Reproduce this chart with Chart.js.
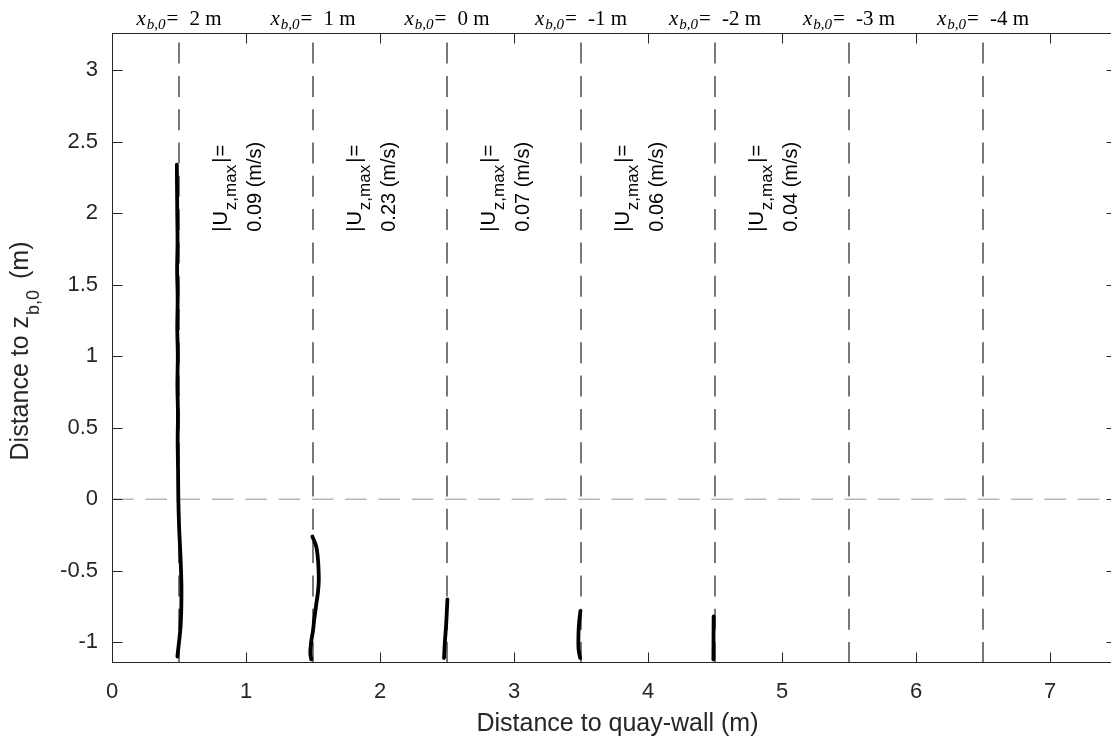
<!DOCTYPE html>
<html>
<head>
<meta charset="utf-8">
<script src="https://cdn.jsdelivr.net/npm/chart.js@4.4.1/dist/chart.umd.min.js"></script>
<style>
  html, body { margin: 0; padding: 0; background: #fff; overflow: hidden; }
  #wrap { width: 1118px; height: 744px; }
</style>
</head>
<body>
<div id="wrap"><canvas id="c" width="1118" height="744"></canvas></div>
<script>
// guide lines at the measurement stations, and the x_b,0 they stand for
const guideX = [0.5, 1.5, 2.5, 3.5, 4.5, 5.5, 6.5];
const xb0 = ['2', '1', '0', '-1', '-2', '-3', '-4'];

// max vertical velocity per profile (m/s)
const uzMax = ['0.09', '0.23', '0.07', '0.06', '0.04'];

// profile shapes (z in m, x in m)
const profZ1 = [-1.10, -1.05, -1.00, -0.90, -0.80, -0.70, -0.60, -0.50, -0.40, -0.30, -0.20, 0.00, 0.20, 0.40, 0.60, 0.80, 1.00, 1.20, 1.40, 1.60, 1.80, 2.00, 2.20, 2.34];
const profX1 = [0.488, 0.494, 0.500, 0.511, 0.516, 0.518, 0.518, 0.515, 0.511, 0.506, 0.501, 0.495, 0.493, 0.490, 0.492, 0.488, 0.491, 0.487, 0.490, 0.486, 0.489, 0.487, 0.485, 0.484];
const profZ2 = [-1.12, -1.08, -1.00, -0.92, -0.85, -0.75, -0.65, -0.57, -0.48, -0.40, -0.33, -0.26];
const profX2 = [1.487, 1.480, 1.486, 1.500, 1.508, 1.522, 1.537, 1.543, 1.541, 1.535, 1.524, 1.495];
const profZ3 = [-1.11, -1.00, -0.90, -0.80, -0.70];
const profX3 = [2.478, 2.484, 2.492, 2.498, 2.503];
const profZ4 = [-1.11, -1.05, -0.95, -0.85, -0.78];
const profX4 = [3.494, 3.482, 3.481, 3.487, 3.496];
const profZ5 = [-1.12, -0.82];
const profX5 = [4.488, 4.490];

const xTicksMin = 0, xTicksMax = 7.5;
const yTicksMin = -1.145, yTicksMax = 3.26;

const profiles = [[profX1, profZ1], [profX2, profZ2], [profX3, profZ3], [profX4, profZ4], [profX5, profZ5]];

const SANS = '"Liberation Sans", Arial, Helvetica, sans-serif';
const SERIF = '"Liberation Serif", "Times New Roman", serif';

const datasets = [];
profiles.forEach(([px, pz]) => {
  datasets.push({
    data: pz.map((z, i) => ({x: px[i], y: z})),
    showLine: true, borderColor: '#000', borderWidth: 3.8,
    pointRadius: 0, tension: 0.3, order: 0, borderCapStyle: 'round'
  });
});
guideX.forEach(g => {
  datasets.push({
    data: [{x: g, y: yTicksMin}, {x: g, y: yTicksMax}],
    showLine: true, borderColor: '#1e1e1e', borderWidth: 1.2,
    borderDash: [21, 12.3], pointRadius: 0, order: 1
  });
});
datasets.push({
  data: [{x: xTicksMin, y: 0}, {x: xTicksMax, y: 0}],
  showLine: true, borderColor: '#b8b8b8', borderWidth: 1.6,
  borderDash: [21.7, 11.6], pointRadius: 0, order: 2
});

// draws a run of text pieces on one baseline, returns its width
function runs(ctx, parts, x0, y0, draw) {
  let x = x0;
  parts.forEach(p => {
    ctx.font = p.f;
    if (draw) ctx.fillText(p.t, x, y0 + (p.dy || 0));
    x += ctx.measureText(p.t).width + (p.gap || 0);
  });
  return x - x0;
}

const overlay = {
  id: 'overlay',
  afterDatasetsDraw(chart) {
    const {ctx, chartArea: a, scales: {x, y}} = chart;
    ctx.save();
    ctx.textBaseline = 'alphabetic';
    ctx.textAlign = 'left';

    // box + inward ticks
    const L = Math.round(a.left) + 0.5, R = Math.round(a.right) - 0.5;
    const T = Math.round(a.top) + 0.5, B = Math.round(a.bottom) - 0.5;
    ctx.strokeStyle = '#262626';
    ctx.lineWidth = 1;
    ctx.strokeRect(L, T, R - L, B - T);
    ctx.beginPath();
    x.ticks.forEach(t => {
      const p = Math.round(x.getPixelForValue(t.value)) + 0.5;
      ctx.moveTo(p, B); ctx.lineTo(p, B - 10);
      ctx.moveTo(p, T); ctx.lineTo(p, T + 10);
    });
    y.ticks.forEach(t => {
      const p = Math.round(y.getPixelForValue(t.value)) + 0.5;
      ctx.moveTo(L, p); ctx.lineTo(L + 10, p);
      ctx.moveTo(R, p); ctx.lineTo(R - 10, p);
    });
    ctx.stroke();

    // x_b,0 labels above the axes
    ctx.fillStyle = '#000';
    guideX.forEach((g, i) => {
      const parts = [
        {t: 'x', f: 'italic 21px ' + SERIF, gap: 1},
        {t: 'b,0', f: 'italic 15px ' + SERIF, dy: 4, gap: 1},
        {t: '=', f: '21px ' + SERIF, gap: 11},
        {t: xb0[i] + ' m', f: '21px ' + SERIF}
      ];
      const w = runs(ctx, parts, 0, 0, false);
      runs(ctx, parts, x.getPixelForValue(g) - w / 2, 25, true);
    });

    // |U_z,max| annotations, rotated
    uzMax.forEach((v, i) => {
      const px = x.getPixelForValue(guideX[i] + 0.36);
      const py = y.getPixelForValue(1.87);
      ctx.save();
      ctx.translate(px, py);
      ctx.rotate(-Math.PI / 2);
      runs(ctx, [
        {t: '|', f: '20px ' + SANS, gap: 1},
        {t: 'U', f: '20px ' + SANS, gap: 1},
        {t: 'z,max', f: '17px ' + SANS, dy: 9, gap: 2},
        {t: '|', f: '20px ' + SANS, gap: 1},
        {t: '=', f: '20px ' + SANS}
      ], 0, 0, true);
      ctx.font = '20px ' + SANS;
      ctx.fillText(v + ' (m/s)', 0, 34);
      ctx.restore();
    });

    // axis titles
    ctx.fillStyle = '#262626';
    ctx.font = '25px ' + SANS;
    ctx.textAlign = 'center';
    ctx.fillText('Distance to quay-wall (m)', (a.left + a.right) / 2 + 3, 731);
    ctx.textAlign = 'left';
    const yParts = [
      {t: 'Distance to z', f: '25px ' + SANS, gap: 1},
      {t: 'b,0', f: '18px ' + SANS, dy: 11, gap: 4},
      {t: ' (m)', f: '25px ' + SANS}
    ];
    const yw = runs(ctx, yParts, 0, 0, false);
    ctx.save();
    ctx.translate(28, (a.top + a.bottom) / 2 + 3);
    ctx.rotate(-Math.PI / 2);
    runs(ctx, yParts, -yw / 2, 0, true);
    ctx.restore();

    ctx.restore();
  }
};

new Chart(document.getElementById('c'), {
  type: 'scatter',
  data: {datasets: datasets},
  plugins: [overlay],
  options: {
    responsive: false,
    animation: false,
    devicePixelRatio: 1,
    layout: {padding: {left: 0, top: 33, right: 1, bottom: 0}},
    plugins: {legend: {display: false}, tooltip: {enabled: false}},
    scales: {
      x: {
        type: 'linear', min: xTicksMin, max: xTicksMax,
        afterFit(s) { s.height = 81; },
        grid: {display: false, drawTicks: false},
        border: {display: false},
        ticks: {
          stepSize: 1, includeBounds: false, autoSkip: false, maxRotation: 0,
          padding: 16, color: '#262626', font: {family: SANS, size: 22},
          callback: v => String(v)
        }
      },
      y: {
        type: 'linear', min: yTicksMin, max: yTicksMax,
        afterFit(s) { s.width = 112; },
        grid: {display: false, drawTicks: false},
        border: {display: false},
        ticks: {
          stepSize: 0.5, includeBounds: false, autoSkip: false,
          padding: 14, color: '#262626', font: {family: SANS, size: 22},
          callback: v => String(v)
        }
      }
    }
  }
});
</script>
</body>
</html>
